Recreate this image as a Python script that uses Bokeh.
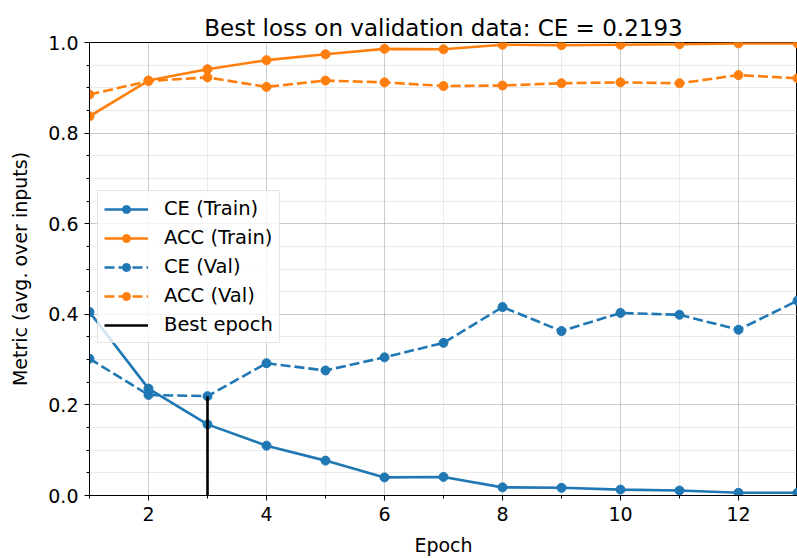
from bokeh.plotting import figure
from bokeh.models import Range1d, SingleIntervalTicker, Legend, LegendItem, NumeralTickFormatter
from bokeh.embed import file_html
from bokeh.resources import INLINE

epochs = [1, 2, 3, 4, 5, 6, 7, 8, 9, 10, 11, 12, 13]
ce_train = [0.405, 0.236, 0.157, 0.110, 0.077, 0.040, 0.041, 0.018, 0.017, 0.013, 0.011, 0.006, 0.006]
acc_train = [0.837, 0.916, 0.941, 0.961, 0.974, 0.986, 0.985, 0.995, 0.994, 0.995, 0.996, 0.998, 0.998]
ce_val = [0.302, 0.222, 0.2193, 0.292, 0.276, 0.305, 0.337, 0.416, 0.363, 0.403, 0.399, 0.366, 0.430]
acc_val = [0.885, 0.915, 0.923, 0.902, 0.916, 0.912, 0.904, 0.905, 0.910, 0.912, 0.910, 0.928, 0.921]
best_epoch = 3
best_ce = 0.2193

BLUE = "#1f77b4"
ORANGE = "#ff7f0e"
FONT = "DejaVu Sans"

p = figure(width=797, height=558, output_backend="svg", toolbar_location=None,
           x_range=Range1d(1, 13), y_range=Range1d(0, 1),
           min_border_left=89, min_border_right=0, min_border_top=42, min_border_bottom=63,
           title="Best loss on validation data: CE = %.4f" % best_ce)

p.title.text_font = FONT
p.title.text_font_size = "23px"
p.title.text_font_style = "normal"
p.title.align = "center"
p.title.text_color = "black"
p.title.standoff = 0
p.title.vertical_align = "top"

p.outline_line_color = "black"
p.outline_line_width = 1
p.background_fill_color = "white"
p.border_fill_color = "white"

p.xaxis.ticker = SingleIntervalTicker(interval=2, num_minor_ticks=2)
p.yaxis.ticker = SingleIntervalTicker(interval=0.2, num_minor_ticks=4)
p.yaxis.formatter = NumeralTickFormatter(format="0.0")

for ax in (p.xaxis, p.yaxis):
    ax.axis_line_color = "black"
    ax.major_tick_line_color = "black"
    ax.minor_tick_line_color = "black"
    ax.major_tick_out = 5
    ax.major_tick_in = 0
    ax.minor_tick_out = 3
    ax.minor_tick_in = 0
    ax.major_label_text_font = FONT
    ax.major_label_text_font_size = "19px"
    ax.major_label_text_color = "black"
    ax.axis_label_text_font = FONT
    ax.axis_label_text_font_size = "19px"
    ax.axis_label_text_font_style = "normal"
    ax.axis_label_text_color = "black"
    ax.major_label_standoff = 6

p.xaxis.axis_label = "Epoch"
p.yaxis.axis_label = "Metric (avg. over inputs)"
p.xaxis.axis_label_standoff = 10
p.yaxis.axis_label_standoff = 14

for g in (p.xgrid, p.ygrid):
    g.grid_line_color = "#b0b0b0"
    g.grid_line_alpha = 0.55
    g.grid_line_width = 1
    g.minor_grid_line_color = "#b0b0b0"
    g.minor_grid_line_alpha = 0.25
    g.minor_grid_line_width = 1

LW = 2.6
MS = 9

r1l = p.line(epochs, ce_train, line_color=BLUE, line_width=LW)
r1s = p.scatter(epochs, ce_train, size=MS, fill_color=BLUE, line_color=BLUE)
r2l = p.line(epochs, acc_train, line_color=ORANGE, line_width=LW)
r2s = p.scatter(epochs, acc_train, size=MS, fill_color=ORANGE, line_color=ORANGE)
r3l = p.line(epochs, ce_val, line_color=BLUE, line_width=LW, line_dash="10 4")
r3s = p.scatter(epochs, ce_val, size=MS, fill_color=BLUE, line_color=BLUE)
r4l = p.line(epochs, acc_val, line_color=ORANGE, line_width=LW, line_dash="10 4")
r4s = p.scatter(epochs, acc_val, size=MS, fill_color=ORANGE, line_color=ORANGE)
r5 = p.segment(x0=[best_epoch], y0=[0], x1=[best_epoch], y1=[best_ce], line_color="black", line_width=LW)

legend = Legend(items=[
    LegendItem(label="CE (Train)", renderers=[r1l, r1s]),
    LegendItem(label="ACC (Train)", renderers=[r2l, r2s]),
    LegendItem(label="CE (Val)", renderers=[r3l, r3s]),
    LegendItem(label="ACC (Val)", renderers=[r4l, r4s]),
    LegendItem(label="Best epoch", renderers=[r5]),
], location=(8, 152))
legend.label_text_font = FONT
legend.label_text_font_size = "19.5px"
legend.label_text_color = "black"
legend.glyph_width = 44
legend.glyph_height = 20
legend.label_height = 20
legend.spacing = 6
legend.padding = 6
legend.margin = 0
legend.label_standoff = 16
legend.border_line_color = "#cccccc"
legend.border_line_width = 1
legend.background_fill_color = "white"
legend.background_fill_alpha = 0.8
p.add_layout(legend, "center")

open("out.html", "w").write(file_html(p, INLINE))
